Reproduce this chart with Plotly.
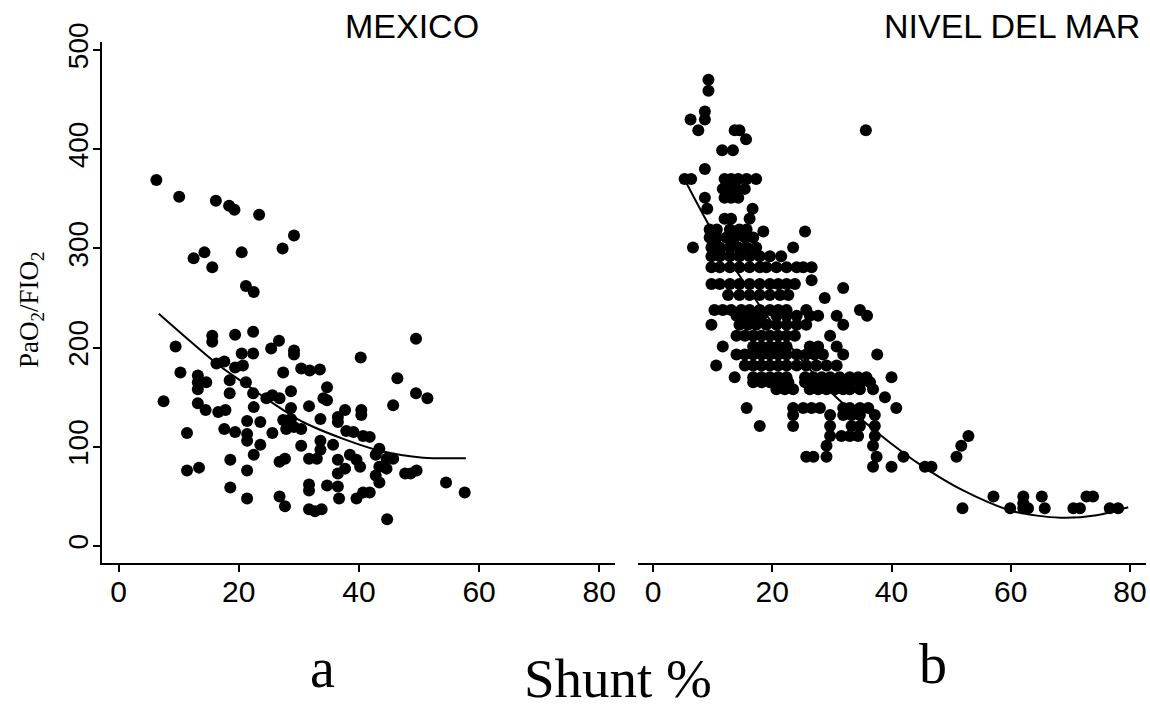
import plotly.graph_objects as go

# ---------------- data ----------------
x_ticks = [0, 20, 40, 60, 80]
y_ticks = [0, 100, 200, 300, 400, 500]
panel_titles = ["MEXICO", "NIVEL DEL MAR"]
panel_letters = ["a", "b"]
x_title = "Shunt %"
y_title = "PaO<sub>2</sub>/FIO<sub>2</sub>"

mex_x = [6.3, 10.1, 16.2, 18.4, 19.3, 23.4, 29.2, 27.3, 14.3, 12.5, 20.5, 15.6, 21.2, 22.5,
         15.6, 15.6, 19.4, 22.4, 49.5, 9.5, 26.7, 25.4, 29.2, 29.2, 20.5, 22.4, 40.3, 16.3,
         17.6, 19.4, 20.7, 10.3, 27.4, 30.4, 31.8, 33.5, 13.2, 13.2, 14.6, 13.2, 18.5, 18.5,
         21.2, 22.4, 46.4, 28.7, 34.7, 34.1, 34.7, 24.6, 25.6, 26.8, 7.5, 49.5, 51.4, 13.2,
         14.5, 16.6, 17.8, 22.5, 31.7, 45.7, 28.7, 37.7, 36.5, 36.5, 40.4, 40.4, 27.4, 28.7,
         27.9, 29.2, 21.4, 23.6, 33.6, 30.4, 17.6, 37.9, 39.1, 40.7, 41.8, 25.6, 11.4, 19.4,
         21.4, 21.4, 23.6, 33.6, 33.6, 35.7, 30.4, 43.4, 42.8, 44.6, 45.7, 22.5, 38.5, 39.6,
         40.2, 36.5, 37.7, 36.5, 31.7, 33.0, 26.8, 27.7, 18.6, 43.4, 44.6, 42.8, 43.4, 47.7,
         49.6, 48.6, 11.4, 13.4, 21.4, 54.5, 57.6, 31.7, 31.7, 34.7, 36.5, 18.6, 26.8, 27.7,
         21.4, 36.7, 39.6, 40.7, 41.8, 31.7, 32.7, 33.8, 44.7]
mex_y = [369, 352, 348, 343, 339, 334, 313, 300, 296, 290, 296, 281, 262, 256,
         212, 206, 213, 216, 209, 201, 207, 199, 197, 193, 194, 194, 190, 184,
         186, 180, 182, 175, 175, 179, 177, 178, 172, 165, 165, 158, 167, 154,
         165, 154, 169, 156, 160, 149, 147, 149, 152, 149, 146, 154, 149, 144,
         137, 135, 137, 140, 141, 142, 139, 137, 130, 125, 137, 132, 127, 128,
         118, 120, 126, 125, 128, 118, 118, 116, 115, 111, 110, 114, 114, 115,
         113, 106, 102, 106, 97, 102, 101, 98, 92, 88, 88, 92, 92, 87,
         80, 87, 78, 73, 88, 88, 85, 88, 87, 80, 78, 71, 64, 73,
         76, 73, 76, 79, 76, 64, 54, 62, 56, 61, 60, 59, 50, 40,
         48, 48, 48, 54, 54, 37, 35, 37, 27]

mar_x = [9.3, 9.3, 8.7, 8.7, 6.3, 7.6, 13.7, 14.5, 35.7, 15.6, 11.6, 13.4, 8.7,
         5.3, 6.4, 12.0, 13.1, 14.3, 15.7, 17.3,
         11.7, 12.9, 14.0, 15.4,
         8.7, 12.0, 13.1, 14.3,
         9.1, 16.7,
         12.0, 13.1, 16.2,
         9.5, 10.7, 12.9, 14.5, 15.7,
         18.5, 25.5,
         9.5, 10.7, 12.3, 13.7, 15.4, 16.8,
         6.7, 9.8, 11.2, 12.9, 14.3, 15.7, 17.3, 23.5,
         9.8, 11.2, 12.9, 14.5, 16.2, 17.9, 19.6, 21.5,
         9.8, 11.2, 12.9, 14.5, 16.2, 17.9, 19.0, 20.7, 22.4, 24.1, 25.2, 26.6,
         26.6,
         9.8, 11.2, 12.9, 14.5, 16.2, 17.9, 19.6, 21.0, 22.4, 23.8,
         31.9,
         12.6, 14.5, 16.2, 17.9, 19.6, 21.3, 22.7,
         28.8,
         10.3, 11.7, 13.1, 14.8, 16.2, 17.9, 19.6, 21.0, 22.4, 25.7, 34.7,
         14.0, 15.4, 16.8, 18.2, 20.7, 22.4, 24.1, 26.3, 27.7, 30.8, 35.9,
         9.8, 14.5, 15.9, 17.3, 19.0, 20.7, 22.4, 24.1, 25.7, 31.9,
         14.0, 15.4, 16.8, 18.2, 19.6, 21.0, 22.4, 23.8, 29.7,
         11.7, 16.8, 18.2, 19.6, 21.0, 22.4, 26.3, 27.7, 30.8,
         14.0, 15.4, 16.8, 18.2, 19.6, 21.0, 22.4, 24.1, 25.7, 27.1, 28.5, 31.9, 37.6,
         10.6, 15.4, 16.8, 18.2, 19.6, 21.0, 22.4, 24.1, 25.7, 27.4, 29.1, 30.8,
         13.7, 16.8, 18.2, 19.6, 21.0, 22.4, 25.5, 26.9, 28.3, 29.7, 31.3, 33.0, 34.4, 35.8, 40.0,
         16.8, 18.2, 19.6, 21.3, 22.7, 25.5, 26.9, 28.3, 29.7, 31.3, 33.0, 34.7, 36.4,
         20.7, 22.1, 23.5, 26.3, 27.7, 29.1, 30.5, 31.9, 33.0, 34.7, 36.9,
         38.9,
         15.7, 23.5, 25.2, 26.6, 28.0, 31.9, 33.0, 34.7, 36.1, 40.8,
         23.5, 29.7, 31.9, 33.3, 34.7, 37.2,
         17.9, 23.5, 29.7, 33.3, 34.7, 37.2,
         29.7, 31.6, 33.0, 34.4, 37.2, 52.9,
         29.1, 36.9, 51.7,
         25.7, 26.9, 29.1, 37.5, 42.0, 50.9,
         36.9, 40.0, 45.6, 46.7,
         57.1, 62.1, 65.2, 72.7, 73.8,
         62.1,
         51.9, 59.9, 62.1, 62.9, 65.7, 70.5, 71.6, 76.6, 78.0]
mar_y = [470, 459, 438, 430, 430, 419, 419, 419, 419, 410, 399, 399, 380,
         370, 370, 370, 370, 370, 370, 370,
         360, 360, 360, 360,
         351, 351, 351, 351,
         340, 340,
         330, 330, 330,
         319, 319, 319, 319, 319,
         317, 317,
         311, 311, 311, 311, 311, 311,
         301, 301, 301, 301, 301, 301, 301, 301,
         292, 292, 292, 292, 292, 292, 292, 292,
         281, 281, 281, 281, 281, 281, 281, 281, 281, 281, 281, 281,
         268,
         264, 264, 264, 264, 264, 264, 264, 264, 264, 264,
         260,
         253, 253, 253, 253, 253, 253, 253,
         250,
         238, 238, 238, 238, 238, 238, 238, 238, 238, 238, 238,
         232, 232, 232, 232, 232, 232, 232, 232, 232, 232, 232,
         223, 223, 223, 223, 223, 223, 223, 223, 223, 223,
         212, 212, 212, 212, 212, 212, 212, 212, 212,
         201, 201, 201, 201, 201, 201, 201, 201, 201,
         193, 193, 193, 193, 193, 193, 193, 193, 193, 193, 193, 193, 193,
         182, 182, 182, 182, 182, 182, 182, 182, 182, 182, 182, 182,
         170, 170, 170, 170, 170, 170, 170, 170, 170, 170, 170, 170, 170, 170, 170,
         165, 165, 165, 165, 165, 165, 165, 165, 165, 165, 165, 165, 165,
         158, 158, 158, 158, 158, 158, 158, 158, 158, 158, 158,
         150,
         139, 139, 139, 139, 139, 139, 139, 139, 139, 139,
         132, 132, 132, 132, 132, 132,
         121, 121, 121, 121, 121, 121,
         111, 111, 111, 111, 111, 111,
         101, 101, 101,
         90, 90, 90, 90, 90, 90,
         80, 80, 80, 80,
         50, 50, 50, 50, 50,
         43,
         38, 38, 38, 38, 38, 38, 38, 38, 38]

# fitted curves
fit_mex_x = [6.7, 16.3, 20.7, 25.2, 30.7, 37.4, 43.5, 50.7, 57.8]
fit_mex_y = [234, 184, 165, 146, 125, 108, 96, 89, 88.5]
fit_mar_x = [5.6, 11.7, 20.7, 29.7, 37.5, 45.3, 52.0, 60.4, 68.3, 74.4, 79.7]
fit_mar_y = [366, 299, 219, 156, 115, 80, 56, 35, 28.5, 31, 39]

# ---------------- layout geometry ----------------
W, H = 1150, 713


def fx(p):
    return p / W


def fy(p):
    return 1 - p / H


fig = go.Figure()
dot = dict(color="black", size=12, line=dict(width=0))
curve = dict(color="black", width=2, shape="spline", smoothing=0.8)

fig.add_trace(go.Scatter(x=mex_x, y=mex_y, mode="markers", marker=dot, xaxis="x", yaxis="y"))
fig.add_trace(go.Scatter(x=fit_mex_x, y=fit_mex_y, mode="lines", line=curve, xaxis="x", yaxis="y"))
fig.add_trace(go.Scatter(x=mar_x, y=mar_y, mode="markers", marker=dot, xaxis="x2", yaxis="y2"))
fig.add_trace(go.Scatter(x=fit_mar_x, y=fit_mar_y, mode="lines", line=curve, xaxis="x2", yaxis="y2"))

tickfont = dict(family="Liberation Sans, Arial, sans-serif", size=30, color="black")
xaxis_common = dict(
    tickmode="array", tickvals=x_ticks, ticktext=[str(v) for v in x_ticks],
    showgrid=False, zeroline=False, showline=True, linecolor="black", linewidth=2,
    ticks="outside", ticklen=7, tickwidth=2, tickcolor="black", tickfont=tickfont,
    ticklabelstandoff=-6, automargin=False,
)
y_domain = [fy(562.5), fy(42)]
y_range = [-16.63, 508.06]

fig.update_layout(
    template="none",
    width=W, height=H, autosize=False,
    margin=dict(l=0, r=0, t=0, b=0, pad=0),
    paper_bgcolor="white", plot_bgcolor="white",
    showlegend=False,
    xaxis=dict(domain=[fx(102), fx(615)], range=[-2.745, 82.61], anchor="y", **xaxis_common),
    xaxis2=dict(domain=[fx(638), fx(1146)], range=[-2.516, 82.68], anchor="y2", **xaxis_common),
    yaxis=dict(
        domain=y_domain, range=y_range, anchor="x", automargin=False,
        tickmode="array", tickvals=y_ticks, ticktext=[str(v) for v in y_ticks],
        showgrid=False, zeroline=False, showline=True, linecolor="black", linewidth=2,
        ticks="outside", ticklen=7, tickwidth=2, tickcolor="black",
        tickangle=-90, ticklabelstandoff=-6,
        tickfont=dict(family="Liberation Sans, Arial, sans-serif", size=28, color="black"),
    ),
    yaxis2=dict(
        domain=y_domain, range=y_range, anchor="x2", automargin=False,
        showgrid=False, zeroline=False, showline=False, showticklabels=False, ticks="",
    ),
)

sans_title = dict(family="Liberation Sans, Arial, sans-serif", size=34, color="black")
serif = "Liberation Serif, Times New Roman, serif"
annotations = [
    dict(text=panel_titles[0], x=fx(412), y=fy(26), font=sans_title),
    dict(text=panel_titles[1], x=fx(1012), y=fy(26), font=sans_title),
    dict(text=panel_letters[0], x=fx(322), y=fy(668), font=dict(family=serif, size=56, color="black")),
    dict(text=panel_letters[1], x=fx(933), y=fy(664), font=dict(family=serif, size=56, color="black")),
    dict(text=x_title, x=fx(618), y=fy(711), yanchor="bottom",
         font=dict(family=serif, size=55, color="black")),
    dict(text=y_title, x=fx(31), y=fy(310), textangle=-90, font=dict(family=serif, size=27, color="black")),
]
for a in annotations:
    a.setdefault("yanchor", "middle")
    a.update(xref="paper", yref="paper", showarrow=False, xanchor="center")
fig.update_layout(annotations=annotations)

fig.write_html(
    "out.html",
    config={"displayModeBar": False, "staticPlot": True},
    post_script="document.body.style.margin='0px'; document.body.style.overflow='hidden';",
)
